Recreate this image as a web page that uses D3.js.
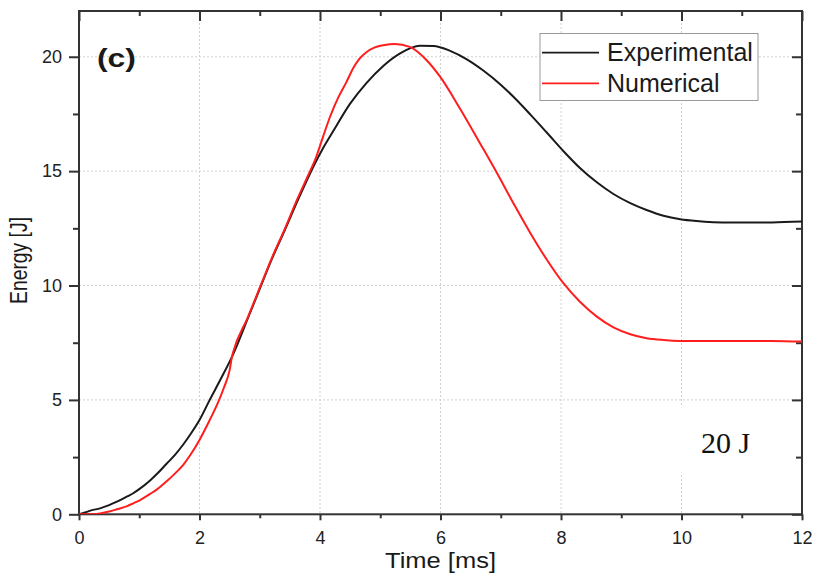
<!DOCTYPE html>
<html>
<head>
<meta charset="utf-8">
<script src="https://cdn.jsdelivr.net/npm/d3@7"></script>
<style>
  html, body { margin: 0; padding: 0; background: #fff; }
  svg { display: block; }
  text { font-family: "Liberation Sans", Arial, sans-serif; }
</style>
</head>
<body>
<svg id="chart" width="817" height="584"></svg>
<script>
// ---- data ----
const expTime = [0, 0.1, 0.2, 0.35, 0.5, 0.63, 0.8, 0.9, 1.0, 1.18, 1.3, 1.45, 1.6, 1.73, 1.85, 2.0, 2.17, 2.35, 2.56, 2.8, 3.03, 3.2, 3.42, 3.61, 3.8, 3.92, 4.05, 4.22, 4.5, 4.77, 5.05, 5.33, 5.66, 5.88, 6.16, 6.43, 6.71, 6.99, 7.21, 7.5, 7.76, 8.05, 8.31, 8.6, 8.87, 9.15, 9.42, 9.7, 9.98, 10.25, 10.53, 10.8, 11.08, 11.5, 12.0];
const expEnergy = [0, 0.08, 0.17, 0.26, 0.4, 0.55, 0.78, 0.92, 1.1, 1.48, 1.78, 2.2, 2.62, 3.05, 3.5, 4.12, 5.0, 5.9, 7.0, 8.55, 10.05, 11.15, 12.45, 13.6, 14.7, 15.35, 16.0, 16.75, 17.95, 18.85, 19.6, 20.15, 20.48, 20.47, 20.26, 19.9, 19.4, 18.8, 18.25, 17.45, 16.7, 15.85, 15.15, 14.5, 14.0, 13.6, 13.3, 13.05, 12.9, 12.82, 12.77, 12.75, 12.75, 12.76, 12.8];

const numTime = [0, 0.2, 0.35, 0.5, 0.63, 0.8, 0.9, 1.0, 1.18, 1.3, 1.45, 1.6, 1.73, 1.85, 2.0, 2.17, 2.31, 2.4, 2.5, 2.54, 2.56, 2.8, 3.03, 3.2, 3.42, 3.61, 3.8, 3.92, 4.05, 4.17, 4.3, 4.44, 4.55, 4.65, 4.77, 4.9, 5.05, 5.24, 5.49, 5.77, 5.99, 6.32, 6.66, 6.93, 7.21, 7.49, 7.76, 8.04, 8.31, 8.59, 8.87, 9.15, 9.42, 9.7, 9.98, 10.5, 11.08, 11.5, 12.0];
const numEnergy = [0, 0.0, 0.04, 0.12, 0.22, 0.36, 0.48, 0.6, 0.89, 1.1, 1.43, 1.8, 2.16, 2.6, 3.25, 4.12, 4.9, 5.5, 6.3, 6.9, 7.1, 8.6, 10.1, 11.2, 12.5, 13.7, 14.8, 15.5, 16.5, 17.4, 18.2, 18.9, 19.5, 19.9, 20.2, 20.4, 20.5, 20.56, 20.43, 19.85, 19.14, 17.75, 16.2, 14.95, 13.6, 12.3, 11.15, 10.1, 9.3, 8.65, 8.17, 7.87, 7.7, 7.62, 7.58, 7.57, 7.58, 7.58, 7.55];

const xMajor = [0, 2, 4, 6, 8, 10, 12];
const xMinor = [1, 3, 5, 7, 9, 11];
const yMajor = [0, 5, 10, 15, 20];
const yMinor = [2.5, 7.5, 12.5, 17.5];
const seriesNames = ["Experimental", "Numerical"];
const seriesColors = ["#1a1a1a", "#ff1e1e"];

// ---- layout ----
const svg = d3.select("#chart");
const L = 79, R = 802, T = 11, B = 514.3;
const x = d3.scaleLinear().domain([0, 12]).range([L, R]);
const y = d3.scaleLinear().domain([0, 22]).range([B, T]);

// grid
const grid = svg.append("g").attr("stroke", "#d0d0d0").attr("stroke-width", 1).attr("stroke-dasharray", "2,2");
grid.selectAll("line.gx").data(xMajor.filter(d => d > 0 && d < 12)).join("line")
  .attr("x1", d => x(d)).attr("x2", d => x(d)).attr("y1", T).attr("y2", B);
grid.selectAll("line.gy").data(yMajor.filter(d => d > 0)).join("line")
  .attr("class", "gy")
  .attr("x1", L).attr("x2", R).attr("y1", d => y(d)).attr("y2", d => y(d));

// white box behind annotation
svg.append("rect").attr("x", 672).attr("y", 405).attr("width", 118).attr("height", 68).attr("fill", "#fff");

// axes
function styleAxis(g) {
  g.select(".domain").remove();
  g.selectAll(".tick line").attr("stroke", "#333").attr("stroke-width", 2);
  g.selectAll(".tick text").attr("fill", "#222").style("font-size", "18px")
    .style("font-family", "'Liberation Sans', Arial, sans-serif");
}
svg.append("g").attr("transform", `translate(0,${B})`)
  .call(d3.axisBottom(x).tickValues(xMajor).tickSize(6).tickPadding(11).tickFormat(d3.format("d"))).call(styleAxis);
svg.append("g").attr("transform", `translate(0,${B})`)
  .call(d3.axisBottom(x).tickValues(xMinor).tickSize(4).tickFormat("")).call(styleAxis);
svg.append("g").attr("transform", `translate(${L},0)`)
  .call(d3.axisLeft(y).tickValues(yMajor).tickSize(10).tickPadding(7).tickFormat(d3.format("d"))).call(styleAxis);
svg.append("g").attr("transform", `translate(${L},0)`)
  .call(d3.axisLeft(y).tickValues(yMinor).tickSize(6).tickFormat("")).call(styleAxis);
svg.append("g").attr("transform", `translate(0,${T})`)
  .call(d3.axisTop(x).tickValues(xMajor).tickSize(-10).tickFormat("")).call(styleAxis);
svg.append("g").attr("transform", `translate(0,${T})`)
  .call(d3.axisTop(x).tickValues(xMinor).tickSize(-5).tickFormat("")).call(styleAxis);
svg.append("g").attr("transform", `translate(${R},0)`)
  .call(d3.axisRight(y).tickValues(yMajor).tickSize(-10).tickFormat("")).call(styleAxis);
svg.append("g").attr("transform", `translate(${R},0)`)
  .call(d3.axisRight(y).tickValues(yMinor).tickSize(-6).tickFormat("")).call(styleAxis);

// frame
svg.append("rect").attr("x", L).attr("y", T).attr("width", R - L).attr("height", B - T)
  .attr("fill", "none").attr("stroke", "#333").attr("stroke-width", 2);

// lines
const line = d3.line().x(d => x(d[0])).y(d => y(d[1])).curve(d3.curveMonotoneX);
const series = [
  expTime.map((t, i) => [t, expEnergy[i]]),
  numTime.map((t, i) => [t, numEnergy[i]])
];
svg.append("defs").append("clipPath").attr("id", "clip")
  .append("rect").attr("x", L).attr("y", T).attr("width", R - L).attr("height", B - T);
svg.append("g").attr("clip-path", "url(#clip)").selectAll("path.s").data(series).join("path")
  .attr("d", line).attr("fill", "none")
  .attr("stroke", (d, i) => seriesColors[i]).attr("stroke-width", 2)
  .attr("stroke-linejoin", "round");

// legend
const lg = svg.append("g");
lg.append("rect").attr("x", 540).attr("y", 33.5).attr("width", 218).attr("height", 67)
  .attr("fill", "#fff").attr("stroke", "#999").attr("stroke-width", 1);
seriesNames.forEach((n, i) => {
  const yy = 52.7 + i * 30.6;
  lg.append("line").attr("x1", 542).attr("x2", 599).attr("y1", yy).attr("y2", yy)
    .attr("stroke", seriesColors[i]).attr("stroke-width", 1.8);
  lg.append("text").attr("x", 607).attr("y", yy + 8.2).text(n)
    .style("font-size", "25px").attr("fill", "#1a1a1a");
});

// panel label
svg.append("text").attr("x", 97).attr("y", 67).text("(c)")
  .style("font-size", "26px").style("font-weight", "bold").attr("fill", "#1a1a1a")
  .attr("textLength", 39).attr("lengthAdjust", "spacingAndGlyphs");

// annotation
svg.append("text").attr("x", 701).attr("y", 453).text("20 J")
  .style("font-family", "'Liberation Serif', 'Times New Roman', serif").style("font-size", "30px").attr("fill", "#111");

// axis titles
svg.append("text").attr("x", 440.5).attr("y", 568).attr("text-anchor", "middle").text("Time [ms]")
  .style("font-size", "22px").attr("fill", "#1a1a1a")
  .attr("textLength", 111).attr("lengthAdjust", "spacingAndGlyphs");
svg.append("text").attr("transform", "translate(27,260.5) rotate(-90)").attr("text-anchor", "middle").text("Energy [J]")
  .style("font-size", "23px").attr("fill", "#1a1a1a")
  .attr("textLength", 87).attr("lengthAdjust", "spacingAndGlyphs");
</script>
</body>
</html>
